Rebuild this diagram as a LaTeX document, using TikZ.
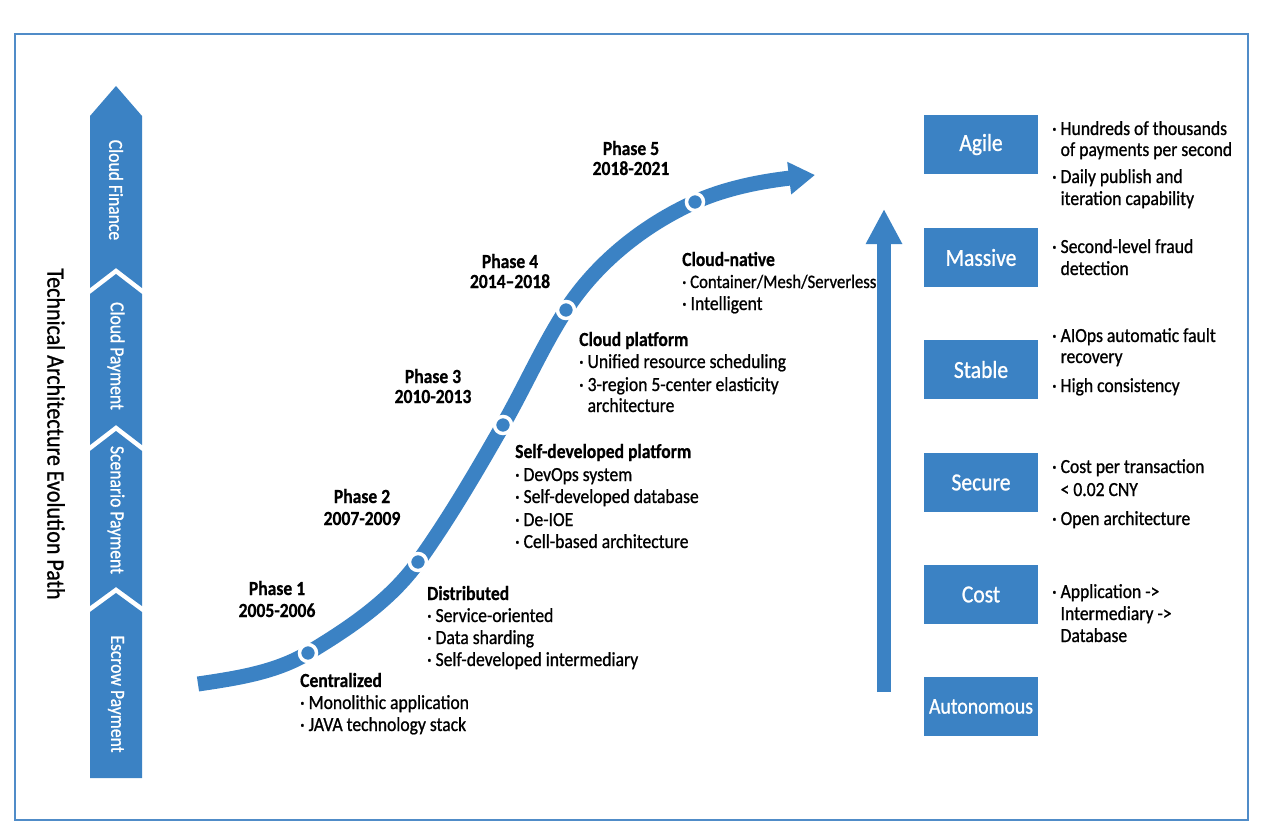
\documentclass[tikz,border=0pt]{standalone}
\usepackage{fontspec}
\setmainfont{Carlito}[FakeStretch=0.88]
\newfontfamily\medf{Carlito}[FakeStretch=0.88, FakeBold=0.9]
\newfontfamily\hvyf{Carlito Bold}[FakeStretch=0.88, FakeBold=0.6]
\usetikzlibrary{arrows.meta}
\definecolor{bl}{RGB}{59,130,196}
\definecolor{framec}{RGB}{80,140,200}
\newcommand\indnt{\hphantom{·\ }}
\newcommand\fsz{\fontsize{20}{24}\selectfont}
\tikzset{
  t/.style={font=\medf\fsz, anchor=base west, inner sep=0pt, text=black},
  hd/.style={font=\hvyf\fsz, anchor=base west, inner sep=0pt, text=black},
  ph/.style={font=\hvyf\fsz, anchor=base, inner sep=0pt, text=black},
  ct/.style={font=\medf\fontsize{20}{22}\selectfont, rotate=-90, text=white, inner sep=0pt},
  box/.style={fill=bl, minimum width=114pt, minimum height=59pt, inner sep=0pt, text=white, font=\medf\fontsize{24.5}{28}\selectfont},
  dot/.style={circle, fill=bl, draw=white, line width=3.5pt, minimum size=17pt, inner sep=0pt},
}
\begin{document}
\begin{tikzpicture}[x=1pt,y=-1pt]
\useasboundingbox (0,0) rectangle (1264,832);
\fill[white] (0,0) rectangle (1264,832);
% frame
\draw[framec, line width=1.5pt] (15,34) rectangle (1248,820);

% left column
\fill[bl] (90,116)--(116,86)--(142,116)--(142,288)--(116,268)--(90,288)--cycle;
\fill[bl] (90,294)--(116,274)--(142,294)--(142,445)--(116,425)--(90,445)--cycle;
\fill[bl] (90,451)--(116,431)--(142,451)--(142,606)--(116,587)--(90,606)--cycle;
\fill[bl] (90,612)--(116,593)--(142,612)--(142,778)--(90,778)--cycle;
\node[ct] (cf) at (116,190) {Cloud Finance};
\node[ct] (cp) at (116,356) {Cloud Payment};
\node[ct] (sp) at (116,510) {Scenario Payment};
\node[ct] (ep) at (116,694) {Escrow Payment};
\node[rotate=-90, font=\medf\fontsize{25}{28}\selectfont, inner sep=0pt] (title) at (56,434) {Technical Architecture Evolution Path};

% curve
\draw[bl, line width=15pt, -{Triangle[length=26pt,width=31pt]}]
  (198,684) .. controls (235.7,678.4) and (275.3,672.6) .. (308,653)
  .. controls (348.8,628.5) and (390.3,600.7) .. (418,562)
  .. controls (449.2,518.3) and (476.4,471.6) .. (503,425)
  .. controls (524.7,387.1) and (542.3,346.7) .. (566,310)
  .. controls (596.4,262.9) and (643.8,225) .. (695,202)
  .. controls (732.6,185.1) and (774,180) .. (815,175);
\node[dot] (d1) at (308,653) {};
\node[dot] (d2) at (418,562) {};
\node[dot] (d3) at (503,425) {};
\node[dot] (d4) at (566,310) {};
\node[dot] (d5) at (695,202) {};

% phases
\node[ph] (p1a) at (277,595) {Phase 1};
\node[ph] (p1b) at (277,617) {2005-2006};
\node[ph] (p2a) at (362,503) {Phase 2};
\node[ph] (p2b) at (362,525) {2007-2009};
\node[ph] (p3a) at (433,383) {Phase 3};
\node[ph] (p3b) at (433,403) {2010-2013};
\node[ph] (p4a) at (510,268) {Phase 4};
\node[ph] (p4b) at (510,288) {2014–2018};
\node[ph] (p5a) at (631,155) {Phase 5};
\node[ph] (p5b) at (631,175) {2018-2021};

% right arrow
\coordinate (vbot) at (884,692);
\coordinate (vtop) at (884,209);
\draw[bl, line width=14pt, -{Triangle[length=35pt,width=34pt]}] (vbot) -- (vtop);

% descriptions
\node[hd] (c1h) at (300,687) {Centralized};
\node[t] (c1a) at (300,709) {· Monolithic application};
\node[t] (c1b) at (300,731) {· JAVA technology stack};

\node[hd] (c2h) at (427,600) {Distributed};
\node[t] (c2a) at (427,622) {· Service-oriented};
\node[t] (c2b) at (427,644) {· Data sharding};
\node[t] (c2c) at (427,666) {· Self-developed intermediary};

\node[hd] (c3h) at (515,458) {Self-developed platform};
\node[t] (c3a) at (515,481) {· DevOps system};
\node[t] (c3b) at (515,503) {· Self-developed database};
\node[t] (c3c) at (515,526) {· De-IOE};
\node[t] (c3d) at (515,548) {· Cell-based architecture};

\node[hd] (c4h) at (579,346) {Cloud platform};
\node[t] (c4a) at (579,368) {· Unified resource scheduling};
\node[t] (c4b) at (579,391) {· 3-region 5-center elasticity};
\node[t] (c4c) at (579,412) {\indnt architecture};

\node[hd] (c5h) at (682,266) {Cloud-native};
\node[t, font=\medf\fontsize{19}{23}\selectfont] (c5a) at (682,288) {· Container/Mesh/Serverless};
\node[t] (c5b) at (682,310) {· Intelligent};

% boxes
\node[box] (agile) at (981,144.5) {Agile};
\node[box] (massive) at (981,257.5) {Massive};
\node[box] (stable) at (981,369.5) {Stable};
\node[box] (secure) at (981,482.5) {Secure};
\node[box] (cost) at (981,594.5) {Cost};
\node[box, font=\medf\fontsize{22.5}{26}\selectfont] (auto) at (981,706.5) {Autonomous};

% right texts
\node[t] (r1a) at (1052,135) {· Hundreds of thousands};
\node[t] (r1b) at (1052,156) {\indnt of payments per second};
\node[t] (r1c) at (1052,183) {· Daily publish and};
\node[t] (r1d) at (1052,205) {\indnt iteration capability};
\node[t] (r2a) at (1052,253) {· Second-level fraud};
\node[t] (r2b) at (1052,275) {\indnt detection};
\node[t] (r3a) at (1052,342) {· AIOps automatic fault};
\node[t] (r3b) at (1052,363) {\indnt recovery};
\node[t] (r3c) at (1052,392) {· High consistency};
\node[t] (r4a) at (1052,473) {· Cost per transaction};
\node[t] (r4b) at (1052,496) {\indnt < 0.02 CNY};
\node[t] (r4c) at (1052,525) {· Open architecture};
\node[t] (r5a) at (1052,598) {· Application ->};
\node[t] (r5b) at (1052,620) {\indnt Intermediary ->};
\node[t] (r5c) at (1052,642) {\indnt Database};
\end{tikzpicture}
\end{document}
